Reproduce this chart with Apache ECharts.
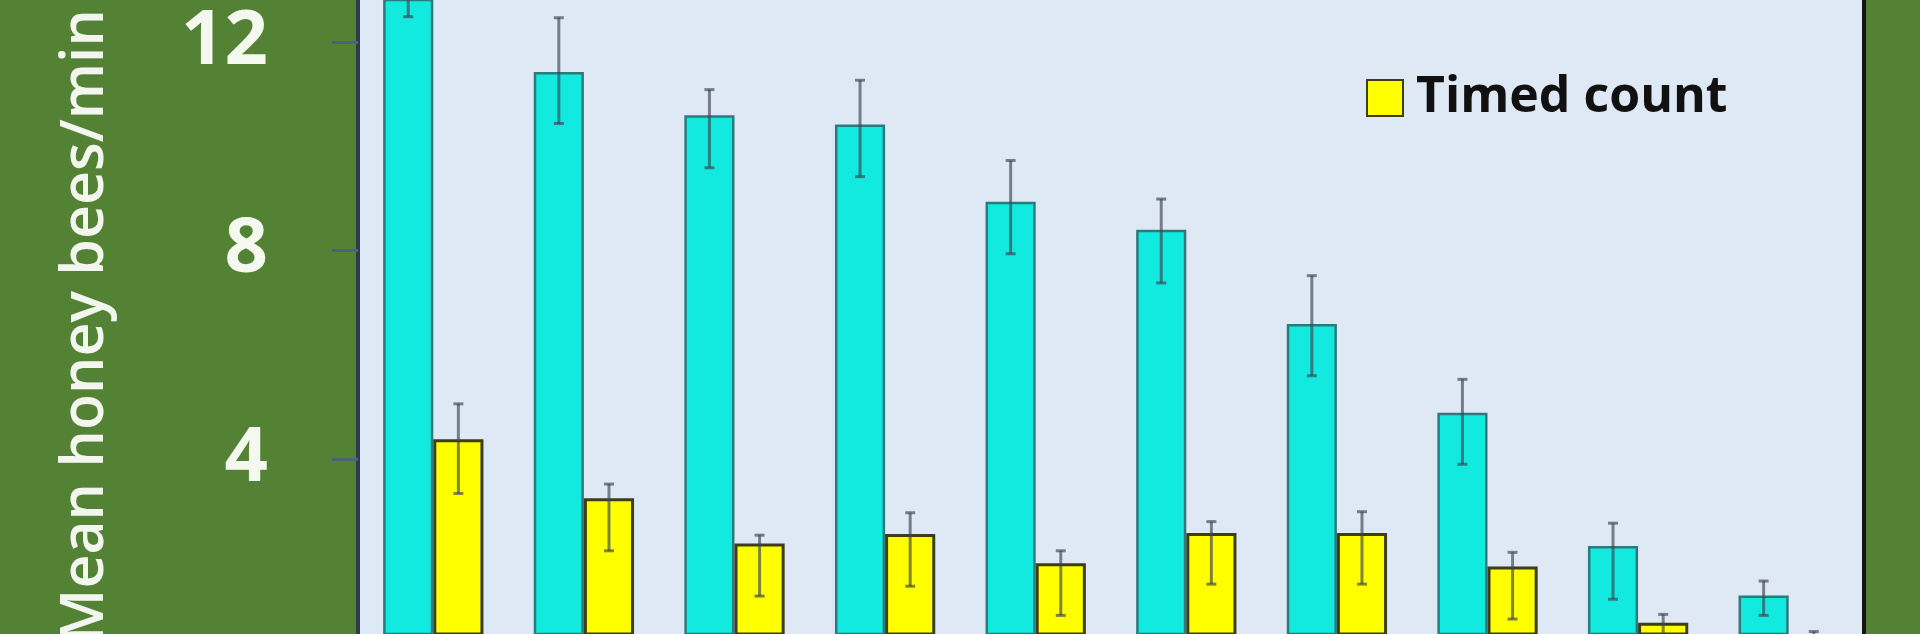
<!DOCTYPE html>
<html>
<head>
<meta charset="utf-8">
<script src="https://cdn.jsdelivr.net/npm/echarts@6/dist/echarts.min.js"></script>
<style>
html,body{margin:0;padding:0;background:#548235;overflow:hidden;}
#chart{width:1920px;height:634px;}
</style>
</head>
<body>
<div id="chart"></div>
<script>
// Categories (their labels lie below the visible area)
const categories = ['1','2','3','4','5','6','7','8','9','10'];
// Cyan series (unnamed in the visible legend)
const cyanValues   = [13.5, 11.43, 10.6, 10.42, 8.94, 8.4, 6.59, 4.89, 2.33, 1.38];
const cyanErrHigh  = [14.3, 12.47, 11.09, 11.27, 9.73, 8.99, 7.52, 5.53, 2.77, 1.66];
const cyanErrLow   = [12.49, 10.44, 9.59, 9.42, 7.94, 7.38, 5.6, 3.9, 1.31, 1.0];
// Timed count series
const timedValues  = [4.38, 3.25, 2.38, 2.56, 2.0, 2.58, 2.58, 1.94, 0.86, 0.5];
const timedErrHigh = [5.06, 3.52, 2.54, 2.97, 2.24, 2.8, 2.99, 2.21, 1.02, 0.69];
const timedErrLow  = [3.34, 2.24, 1.37, 1.56, 1.0, 1.6, 1.6, 0.93, 0.3, 0.3];
// Visible window of the value axis (the picture is cropped) and its tick labels
const yVisibleMin = 0.643;
const yVisibleMax = 12.81;
const yTicks = [4, 8, 12];

const CAT_GAP = 0.334;

function errorSeries(lows, highs, side, color) {
  return {
    type: 'custom',
    z: 10,
    silent: true,
    clip: false,
    data: categories.map((c, i) => [i, lows[i], highs[i]]),
    encode: { x: 0, y: [1, 2] },
    renderItem: function (params, api) {
      const i = api.value(0);
      const lo = api.coord([i, api.value(1)]);
      const hi = api.coord([i, api.value(2)]);
      const band = api.size([1, 0])[0];
      const off = side * band * (1 - CAT_GAP) / 4;
      const x = lo[0] + off;
      const cap = 5;
      const st = { stroke: color, lineWidth: 3 };
      return {
        type: 'group',
        children: [
          { type: 'line', shape: { x1: x, y1: lo[1], x2: x, y2: hi[1] }, style: st },
          { type: 'line', shape: { x1: x - cap, y1: lo[1], x2: x + cap, y2: lo[1] }, style: st },
          { type: 'line', shape: { x1: x - cap, y1: hi[1], x2: x + cap, y2: hi[1] }, style: st }
        ]
      };
    }
  };
}

const chart = echarts.init(document.getElementById('chart'), null, { renderer: 'canvas' });
chart.setOption({
  backgroundColor: '#548235',
  animation: false,
  grid: {
    left: 358, right: 56, top: 0, bottom: 0,
    show: true, backgroundColor: '#dfe9f6', borderWidth: 0
  },
  legend: {
    data: ['Timed count'],
    left: 1366, top: 73, padding: 0,
    itemWidth: 36, itemHeight: 36, icon: 'rect',
    textStyle: { color: '#111', fontSize: 50, fontWeight: 'bold', fontFamily: 'Open Sans', padding: [0, 0, 0, 8] }
  },
  xAxis: {
    type: 'category', data: categories,
    axisLine: { show: false }, axisTick: { show: false }, axisLabel: { show: false }
  },
  yAxis: [{
    type: 'value', min: yVisibleMin, max: yVisibleMax,
    splitLine: { show: false },
    axisLine: { show: true, lineStyle: { color: '#2f3b4a', width: 4 } },
    axisTick: { show: true, length: 26, customValues: yTicks, lineStyle: { color: '#4d6270', width: 3 } },
    axisLabel: {
      margin: 90, color: '#f5f8ef', fontSize: 76, fontWeight: 'bold', fontFamily: 'Open Sans',
      customValues: yTicks, padding: [16, 0, 0, 0]
    }
  }, {
    type: 'value', position: 'right', min: yVisibleMin, max: yVisibleMax,
    splitLine: { show: false },
    axisLine: { show: true, lineStyle: { color: '#141414', width: 4 } },
    axisTick: { show: false }, axisLabel: { show: false }
  }],
  graphic: [{
    type: 'text', x: 86, y: 326, rotation: Math.PI / 2,
    style: {
      text: 'Mean honey bees/min', fill: '#f3f6ee',
      font: '600 59px "Open Sans"', align: 'center', verticalAlign: 'middle'
    }
  }],
  series: [
    {
      name: 'Count', type: 'bar', data: cyanValues,
      barGap: '0%', barCategoryGap: (CAT_GAP * 100) + '%',
      itemStyle: { color: '#12e9df', borderColor: '#2c7b7c', borderWidth: 2.5 }
    },
    {
      name: 'Timed count', type: 'bar', data: timedValues,
      barGap: '0%', barCategoryGap: (CAT_GAP * 100) + '%',
      itemStyle: { color: '#ffff00', borderColor: '#3d3d1c', borderWidth: 3 }
    },
    errorSeries(cyanErrLow, cyanErrHigh, -1, 'rgba(60,68,80,0.65)'),
    errorSeries(timedErrLow, timedErrHigh, 1, 'rgba(60,68,80,0.65)')
  ]
});
</script>
</body>
</html>
